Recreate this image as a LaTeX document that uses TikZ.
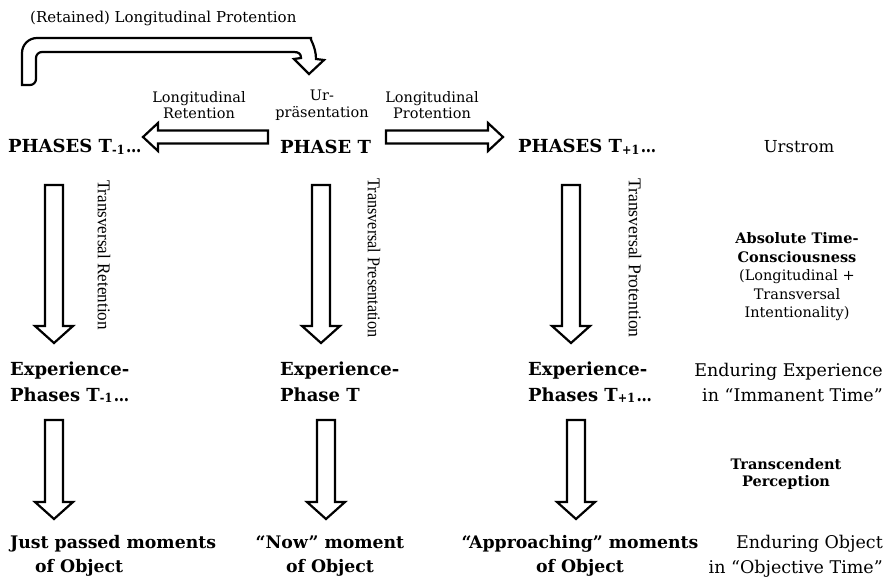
\documentclass[tikz,border=0pt]{standalone}
\usepackage{fontspec}
\setmainfont{DejaVu Serif}
\newfontfamily\rotfont{Liberation Serif}
\usetikzlibrary{calc}

% hollow block arrows between two named coordinates
\newcommand\downblock[2]{%
  \draw[blockarrow] let \p1=(#1), \p2=(#2) in
    (\x1-9pt,\y1) -- (\x1+9pt,\y1) -- (\x1+9pt,\y2+17pt) -- (\x1+19pt,\y2+17pt)
    -- (\x2,\y2) -- (\x1-19pt,\y2+17pt) -- (\x1-9pt,\y2+17pt) -- cycle;}
% #3 = +1 for an arrow to the right, -1 for one to the left
\newcommand\sideblock[3]{%
  \draw[blockarrow] let \p1=(#1), \p2=(#2) in
    (\x1,\y1+6.5pt) -- (\x2-#3*15pt,\y1+6.5pt) -- (\x2-#3*15pt,\y1+14pt)
    -- (\x2,\y2) -- (\x2-#3*15pt,\y1-14pt) -- (\x2-#3*15pt,\y1-6.5pt)
    -- (\x1,\y1-6.5pt) -- cycle;}

\tikzset{
  blockarrow/.style={draw=black, line width=2.2pt, fill=white, line join=miter},
  lbl/.style={font=\fontsize{14.5}{16.5}\selectfont, align=center, inner sep=0pt},
  phase/.style={font=\bfseries\fontsize{18}{20}\selectfont, inner sep=0pt, anchor=west},
  exper/.style={font=\bfseries\fontsize{18}{26}\selectfont, inner sep=0pt, align=left, anchor=west},
  side/.style={font=\fontsize{17.5}{25}\selectfont, inner sep=0pt, align=right, anchor=east},
  level/.style={font=\fontsize{14.5}{18.5}\selectfont, inner sep=0pt, align=center},
  objrow/.style={font=\bfseries\fontsize{17.3}{24}\selectfont, inner sep=0pt},
  trans/.style={font=\rotfont\fontsize{18}{18}\selectfont, inner sep=0pt, rotate=-90},
}

% small lowered index and a tight ellipsis after the phase letters
\newcommand\sub[1]{\raisebox{-1.5pt}{\fontsize{12.5}{12.5}\selectfont\scalebox{0.9}[1]{#1}}}
\newcommand\tdots{\kern1.5pt\scalebox{0.85}[1]{…}}

\begin{document}
\begin{tikzpicture}[x=1pt, y=-1pt]
\useasboundingbox (0,0) rectangle (887,580);

% ---- top row: the stream (Urstrom) ----
\node[lbl, anchor=west, font=\fontsize{15}{17}\selectfont] (retlabel) at (30,18) {(Retained) Longitudinal Protention};
\node[lbl] (lret) at (199,105) {Longitudinal\\Retention};
\node[lbl] (urp)  at (322,105) {Ur-\\präsentation};
\node[lbl] (lpro) at (432,105) {Longitudinal\\Protention};

\node[phase] (pm) at (8,147)   {PHASES T\sub{-1}\tdots};
\node[phase] (p0) at (280,147) {PHASE T};
\node[phase] (pp) at (518,147) {PHASES T\sub{+1}\tdots};
\node[font=\fontsize{16.5}{18}\selectfont, inner sep=0pt] (urstrom) at (799,147) {Urstrom};

% retained protention: bent arrow from the past phases back over to phase T
\draw[blockarrow] (22,85) [rounded corners=15pt] -- (22,38) -- (296,38)
  [sharp corners] .. controls (309,38) and (316,46) .. (316,59)
  -- (324,60) -- (309,74) -- (294,59) -- (301,58)
  .. controls (301,54) and (299,52) .. (294,52)
  [rounded corners=6pt] -- (36,52) -- (36,85) [sharp corners] -- cycle;

% longitudinal retention and protention
\coordinate (lr-tail) at (268,137);
\coordinate (lr-tip)  at (143,137);
\coordinate (lp-tail) at (386,137);
\coordinate (lp-tip)  at (503,137);
\sideblock{lr-tail}{lr-tip}{-1}
\sideblock{lp-tail}{lp-tip}{1}

% ---- transversal intentionality ----
\coordinate (t1a) at (54,185);  \coordinate (t1b) at (54,343);
\coordinate (t2a) at (321,185); \coordinate (t2b) at (321,343);
\coordinate (t3a) at (571,185); \coordinate (t3b) at (571,343);
\downblock{t1a}{t1b}
\downblock{t2a}{t2b}
\downblock{t3a}{t3b}

\node[trans] (tret) at (104,255) {\scalebox{0.95}[1]{Transversal Retention}};
\node[trans] (tpre) at (374,258) {\scalebox{0.9}[1]{Transversal Presentation}};
\node[trans] (tpro) at (635,258) {\scalebox{0.98}[1]{Transversal Protention}};

\node[level] (atc) at (797,277) {\textbf{Absolute Time-}\\\textbf{Consciousness}\\(Longitudinal +\\Transversal\\Intentionality)};

% ---- experience phases in immanent time ----
\node[exper] (em) at (10,382)  {Experience-\\Phases T\sub{-1}\tdots};
\node[exper] (e0) at (280,382) {Experience-\\Phase T};
\node[exper] (ep) at (528,382) {Experience-\\Phases T\sub{+1}\tdots};
\node[side]  (ee) at (883,382) {Enduring Experience\\in “Immanent Time”};

% ---- transcendent perception ----
\coordinate (o1a) at (54,420);  \coordinate (o1b) at (54,519);
\coordinate (o2a) at (326,420); \coordinate (o2b) at (326,519);
\coordinate (o3a) at (576,420); \coordinate (o3b) at (576,519);
\downblock{o1a}{o1b}
\downblock{o2a}{o2b}
\downblock{o3a}{o3b}

\node[level, font=\bfseries\fontsize{14.5}{16.5}\selectfont] (tp) at (786,474) {Transcendent\\Perception};

% ---- moments of the object in objective time ----
\node[objrow, align=left, anchor=west] (om) at (10,556) {Just passed moments\\\hspace*{25pt}of Object};
\node[objrow, align=center] (o0) at (330,556) {“Now” moment\\of Object};
\node[objrow, align=center] (op) at (580,556) {“Approaching” moments\\of Object};
\node[side] (eo) at (883,556) {Enduring Object\\in “Objective Time”};
\end{tikzpicture}
\end{document}
